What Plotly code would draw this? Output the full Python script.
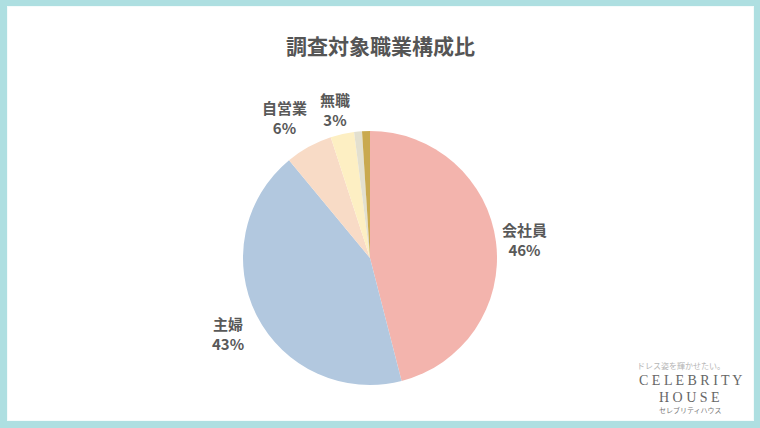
import plotly.graph_objects as go

categories = ["会社員", "主婦", "自営業", "無職", "その他", "学生"]
values = [46, 43, 6, 3, 1.0, 1.0]
pct_labels = ["46%", "43%", "6%", "3%", "", ""]
colors = ["#F3B4AD", "#B2C8DF", "#F8DBC6", "#FDEFC3", "#E3E0CF", "#C9A94F"]

W, H = 760, 428
cx, cy, r = 370, 258, 127

fig = go.Figure(go.Pie(
    labels=categories, values=values, sort=False, direction="clockwise",
    rotation=0, marker=dict(colors=colors, line=dict(width=0)),
    textinfo="none", hoverinfo="label+percent", showlegend=False,
    domain=dict(x=[(cx - r) / W, (cx + r) / W], y=[1 - (cy + r) / H, 1 - (cy - r) / H]),
))

shapes = [
    dict(type="rect", xref="paper", yref="paper", x0=0, x1=1, y0=0, y1=1,
         fillcolor="#AEDFE1", line=dict(width=0), layer="below"),
    dict(type="rect", xref="paper", yref="paper", x0=7 / W, x1=754 / W,
         y0=1 - 421 / H, y1=1 - 6 / H, fillcolor="#F4FBFB", line=dict(width=0), layer="below"),
    dict(type="rect", xref="paper", yref="paper", x0=8 / W, x1=753 / W,
         y0=1 - 420 / H, y1=1 - 7 / H, fillcolor="#FFFFFF", line=dict(width=0), layer="below"),
]

font = "Noto Sans CJK JP"


def ann(text, px, py, size, color, family=font):
    return dict(text=text, x=px / W, y=1 - py / H, xref="paper", yref="paper",
                xanchor="center", yanchor="middle", showarrow=False, align="center",
                font=dict(family=family, size=size, color=color))


label_pos = {0: (524, 240), 1: (228, 333), 2: (284, 117), 3: (335, 110)}
annotations = [ann("<b>調査対象職業構成比</b>", 380, 45, 21, "#555555")]
for i, (px, py) in label_pos.items():
    annotations.append(ann(f"<b>{categories[i]}<br>{pct_labels[i]}</b>", px, py, 15, "#595959"))

# logo
annotations += [
    ann("ドレス姿を輝かせたい。", 681, 365, 8, "#B5B5B5"),
    ann("C E L E B R I T Y", 690, 380, 14, "#666666", "Liberation Serif"),
    ann("H O U S E", 689, 397, 14, "#666666", "Liberation Serif"),
    ann("セレブリティハウス", 690, 410, 7, "#777777"),
]

fig.update_layout(
    width=W, height=H, margin=dict(l=0, r=0, t=0, b=0),
    paper_bgcolor="#FFFFFF", plot_bgcolor="#FFFFFF",
    shapes=shapes, annotations=annotations,
)
fig.write_html("out.html", config={"displayModeBar": False},
               post_script="document.body.style.margin='0';document.body.style.overflow='hidden';")
